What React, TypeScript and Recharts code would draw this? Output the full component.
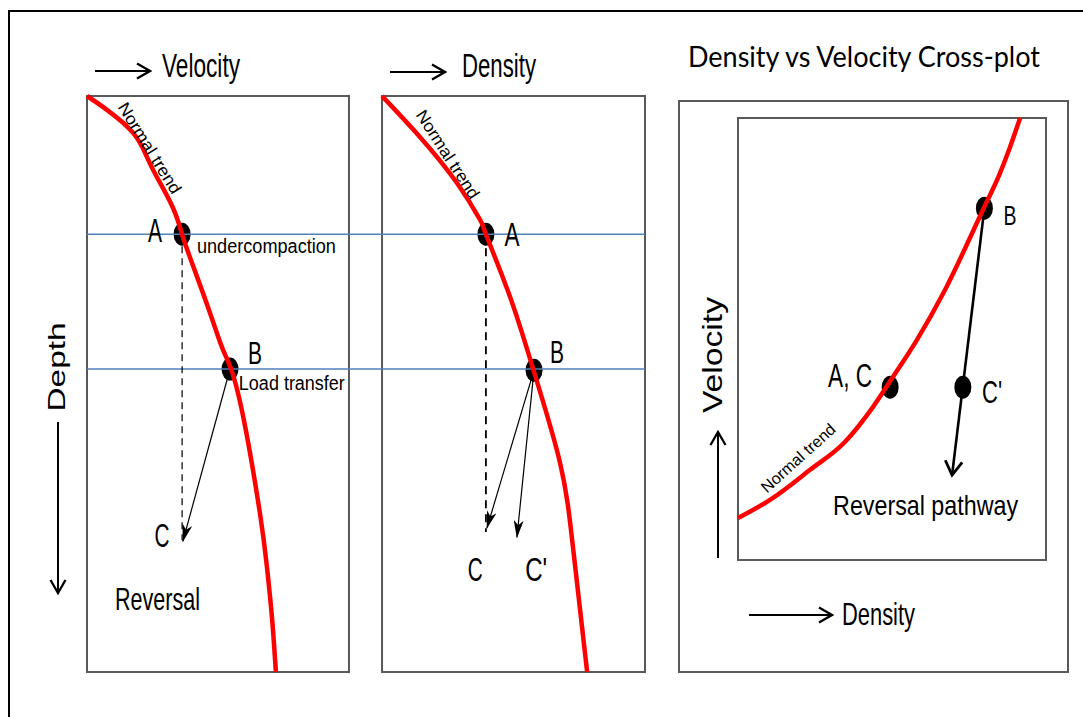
import React from 'react';
import { ComposedChart, Line, Scatter, XAxis, YAxis, ReferenceLine, ReferenceArea } from 'recharts';

// panel 1: velocity (0-100 across its box) against depth (0-100, top to bottom)
const velocityTrend = [
  { x: 0, y: 0 }, { x: 7.6, y: 2.4 }, { x: 17.6, y: 6.4 }, { x: 22.9, y: 10.6 }, { x: 26.7, y: 14.1 },
  { x: 32.8, y: 19.4 }, { x: 36.3, y: 24.0 }, { x: 39.7, y: 28.5 }, { x: 46.6, y: 37.2 }, { x: 51.5, y: 43.6 },
  { x: 55.0, y: 47.4 }, { x: 59.9, y: 56.3 }, { x: 66.0, y: 72.4 }, { x: 68.7, y: 81.8 }, { x: 70.6, y: 90.5 },
  { x: 72.1, y: 100 },
];
const velocityPoints = [{ x: 36.3, y: 24.0 }, { x: 54.6, y: 47.4 }];
const velocityHold = [{ x: 36.3, y: 24.0 }, { x: 36.3, y: 77.1 }];
const velocityToC = [{ x: 54.6, y: 47.4 }, { x: 36.6, y: 77.3 }];
const velocityLabels = [
  { x: 26.0, y: 23.3, text: 'A' },
  { x: 68.5, y: 26.0, text: 'undercompaction' },
  { x: 64.1, y: 44.6, text: 'B' },
  { x: 78.2, y: 49.8, text: 'Load transfer' },
  { x: 28.6, y: 76.2, text: 'C' },
  { x: 26.9, y: 87.2, text: 'Reversal' },
  { x: 24.0, y: 9.0, text: 'Normal trend' },
];

// panel 2: density against the same depth
const densityTrend = [
  { x: 0, y: 0 }, { x: 14.4, y: 7.1 }, { x: 28.5, y: 15.1 }, { x: 37.3, y: 21.5 }, { x: 39.5, y: 24.0 },
  { x: 48.7, y: 34.9 }, { x: 57.8, y: 47.9 }, { x: 67.7, y: 63.7 }, { x: 72.6, y: 78.3 }, { x: 78.0, y: 100 },
];
const densityPoints = [{ x: 39.5, y: 24.0 }, { x: 57.8, y: 47.6 }];
const densityHold = [{ x: 39.5, y: 24.0 }, { x: 39.5, y: 75.7 }];
const densityToC = [{ x: 57.8, y: 47.6 }, { x: 39.9, y: 75.0 }];
const densityToC2 = [{ x: 57.8, y: 47.6 }, { x: 51.3, y: 76.6 }];
const densityLabels = [
  { x: 49.4, y: 23.9, text: 'A' },
  { x: 66.5, y: 44.4, text: 'B' },
  { x: 35.4, y: 82.1, text: 'C' },
  { x: 58.6, y: 82.1, text: "C'" },
  { x: 25.1, y: 10.1, text: 'Normal trend' },
];

// depth of A and B (blue horizons)
const horizons = [24.0, 47.4];

// panel 3: density (x) vs velocity (y) cross-plot
const crossTrend = [
  { x: 0, y: 9.5 }, { x: 10.4, y: 13.6 }, { x: 23.4, y: 20.4 }, { x: 34.7, y: 26.7 }, { x: 43.8, y: 34.6 },
  { x: 50.3, y: 41.4 }, { x: 58.1, y: 49.8 }, { x: 67.2, y: 61.1 }, { x: 79.5, y: 79.2 }, { x: 85.1, y: 87.6 },
  { x: 88.3, y: 93.4 }, { x: 91.6, y: 100 },
];
const crossPoints = [{ x: 80.0, y: 79.6 }, { x: 49.4, y: 39.1 }, { x: 73.0, y: 39.1 }];
const crossReversal = [{ x: 80.0, y: 79.6 }, { x: 69.5, y: 19.2 }];
const crossLabels = [
  { x: 88.3, y: 78.1, text: 'B' },
  { x: 36.4, y: 41.9, text: 'A, C' },
  { x: 82.5, y: 38.1, text: "C'" },
  { x: 60.9, y: 12.4, text: 'Reversal pathway' },
  { x: 19.5, y: 23.1, text: 'Normal trend' },
];

type TagStyle = { size: number; len: number; angle?: number };

const SANS = '"Liberation Sans", Arial, sans-serif';

const velocityTagStyle: Record<string, TagStyle> = {
  A: { size: 33, len: 14 },
  B: { size: 32, len: 14 },
  C: { size: 33, len: 15 },
  undercompaction: { size: 20, len: 139 },
  'Load transfer': { size: 19.5, len: 106 },
  Reversal: { size: 32, len: 85 },
  'Normal trend': { size: 17, len: 104, angle: 58 },
};
const densityTagStyle: Record<string, TagStyle> = {
  A: { size: 33, len: 15 },
  B: { size: 32, len: 14 },
  C: { size: 33, len: 15 },
  "C'": { size: 33, len: 22 },
  'Normal trend': { size: 17, len: 102, angle: 57 },
};
const crossTagStyle: Record<string, TagStyle> = {
  B: { size: 28, len: 13 },
  'A, C': { size: 33, len: 44 },
  "C'": { size: 32, len: 20 },
  'Reversal pathway': { size: 28, len: 185 },
  'Normal trend': { size: 16, len: 94, angle: -42 },
};

const tag = (styles: Record<string, TagStyle>) => (props: any) => {
  const { cx, cy, payload } = props;
  const s = styles[payload.text];
  return (
    <text
      transform={`translate(${cx},${cy}) rotate(${s.angle ?? 0})`}
      textAnchor="middle"
      dy={s.size * 0.36}
      fontSize={s.size}
      fontFamily={SANS}
      textLength={s.len}
      lengthAdjust="spacingAndGlyphs"
      fill="#000"
    >
      {payload.text}
    </text>
  );
};

const blob = (props: any) => <ellipse cx={props.cx} cy={props.cy} rx={8.5} ry={11.5} fill="#000" />;

const Markers = () => (
  <svg width={0} height={0} style={{ position: 'absolute' }}>
    <defs>
      <marker id="stealth" viewBox="0 0 18 10" refX={17} refY={5} markerWidth={18} markerHeight={10}
        markerUnits="userSpaceOnUse" orient="auto">
        <path d="M0,0 L18,5 L0,10 L5,5 Z" fill="#000" />
      </marker>
      <marker id="vhead" viewBox="0 0 18 18" refX={16} refY={9} markerWidth={18} markerHeight={18}
        markerUnits="userSpaceOnUse" orient="auto">
        <path d="M3,1.5 L16,9 L3,16.5" fill="none" stroke="#000" strokeWidth={2.3} />
      </marker>
      <marker id="bighead" viewBox="0 0 20 20" refX={17} refY={10} markerWidth={20} markerHeight={20}
        markerUnits="userSpaceOnUse" orient="auto">
        <path d="M3,1.5 L17,10 L3,18.5" fill="none" stroke="#000" strokeWidth={2.8} />
      </marker>
    </defs>
  </svg>
);

const BOX = '#595959';
const RED = '#ff0000';
const BLUE = '#4f81bd';

// vertical layout so the steep trends are interpolated along depth (depth already runs top-down)
const DepthPanels = () => (
  <ComposedChart layout="vertical" width={1083} height={717} margin={{ top: 96, right: 438, bottom: 45, left: 87 }}>
    <XAxis xAxisId="vel" type="number" dataKey="x" domain={[0, 213]} hide />
    <XAxis xAxisId="den" type="number" dataKey="x" domain={[-112.2, 100]} hide />
    <YAxis yAxisId="depth" type="number" dataKey="y" domain={[0, 100]} hide />

    <ReferenceArea xAxisId="vel" yAxisId="depth" x1={0} x2={100} y1={0} y2={100}
      fill="none" stroke={BOX} strokeWidth={2} />
    <ReferenceArea xAxisId="den" yAxisId="depth" x1={0} x2={100} y1={0} y2={100}
      fill="none" stroke={BOX} strokeWidth={2} />
    {horizons.map((d) => (
      <ReferenceLine key={d} xAxisId="vel" yAxisId="depth" y={d} stroke={BLUE} strokeWidth={1.3} />
    ))}

    <Line xAxisId="vel" yAxisId="depth" data={velocityHold} dataKey="x" stroke="#000" strokeWidth={1.2}
      strokeDasharray="7 5" dot={false} activeDot={false} isAnimationActive={false} />
    <Line xAxisId="vel" yAxisId="depth" data={velocityToC} dataKey="x" stroke="#000" strokeWidth={1.2}
      markerEnd="url(#stealth)" dot={false} activeDot={false} isAnimationActive={false} />
    <Line xAxisId="den" yAxisId="depth" data={densityHold} dataKey="x" stroke="#000" strokeWidth={1.8}
      strokeDasharray="8 6" dot={false} activeDot={false} isAnimationActive={false} />
    <Line xAxisId="den" yAxisId="depth" data={densityToC} dataKey="x" stroke="#000" strokeWidth={1.2}
      markerEnd="url(#stealth)" dot={false} activeDot={false} isAnimationActive={false} />
    <Line xAxisId="den" yAxisId="depth" data={densityToC2} dataKey="x" stroke="#000" strokeWidth={1.2}
      markerEnd="url(#stealth)" dot={false} activeDot={false} isAnimationActive={false} />

    <Scatter xAxisId="vel" yAxisId="depth" data={velocityPoints} shape={blob} zIndex={350} isAnimationActive={false} />
    <Scatter xAxisId="den" yAxisId="depth" data={densityPoints} shape={blob} zIndex={350} isAnimationActive={false} />

    <Line xAxisId="vel" yAxisId="depth" data={velocityTrend} dataKey="x" type="natural" stroke={RED}
      strokeWidth={4.5} dot={false} activeDot={false} isAnimationActive={false} />
    <Line xAxisId="den" yAxisId="depth" data={densityTrend} dataKey="x" type="natural" stroke={RED}
      strokeWidth={4.5} dot={false} activeDot={false} isAnimationActive={false} />

    <Scatter xAxisId="vel" yAxisId="depth" data={velocityLabels} shape={tag(velocityTagStyle)} isAnimationActive={false} />
    <Scatter xAxisId="den" yAxisId="depth" data={densityLabels} shape={tag(densityTagStyle)} isAnimationActive={false} />
  </ComposedChart>
);

const CrossPlot = () => (
  <ComposedChart width={1083} height={717} margin={{ top: 118, right: 37, bottom: 157, left: 738 }}>
    <XAxis type="number" dataKey="x" domain={[0, 100]} hide />
    <YAxis type="number" dataKey="y" domain={[0, 100]} hide />
    <ReferenceArea x1={0} x2={100} y1={0} y2={100} fill="none" stroke={BOX} strokeWidth={2} />
    <Line data={crossReversal} dataKey="y" stroke="#000" strokeWidth={2.6} markerEnd="url(#bighead)"
      dot={false} activeDot={false} isAnimationActive={false} />
    <Scatter data={crossPoints} shape={blob} zIndex={350} isAnimationActive={false} />
    <Line data={crossTrend} dataKey="y" type="monotone" stroke={RED} strokeWidth={4.5}
      dot={false} activeDot={false} isAnimationActive={false} />
    <Scatter data={crossLabels} shape={tag(crossTagStyle)} isAnimationActive={false} />
  </ComposedChart>
);

const Titles = () => (
  <svg width={1083} height={717} style={{ position: 'absolute', left: 0, top: 0 }} fontFamily={SANS}>
    <line x1={95} y1={71} x2={150} y2={71} stroke="#000" strokeWidth={2} markerEnd="url(#vhead)" />
    <text x={162} y={77} fontSize={33} textLength={78} lengthAdjust="spacingAndGlyphs">Velocity</text>
    <line x1={390} y1={72} x2={445} y2={72} stroke="#000" strokeWidth={2} markerEnd="url(#vhead)" />
    <text x={462} y={77} fontSize={33} textLength={74} lengthAdjust="spacingAndGlyphs">Density</text>

    <text transform="translate(65,367) rotate(-90)" textAnchor="middle" fontSize={24} textLength={89}
      lengthAdjust="spacingAndGlyphs">Depth</text>
    <line x1={58} y1={422} x2={58} y2={593} stroke="#000" strokeWidth={2} markerEnd="url(#vhead)" />

    <text x={688} y={67} fontSize={28} fontFamily="Lato, 'Open Sans', sans-serif" textLength={352}
      lengthAdjust="spacingAndGlyphs">Density vs Velocity Cross-plot</text>
    <text transform="translate(722,355) rotate(-90)" textAnchor="middle" fontSize={28} textLength={116}
      lengthAdjust="spacingAndGlyphs">Velocity</text>
    <line x1={718} y1={558} x2={718} y2={432} stroke="#000" strokeWidth={2} markerEnd="url(#vhead)" />
    <line x1={749} y1={615} x2={832} y2={615} stroke="#000" strokeWidth={2} markerEnd="url(#vhead)" />
    <text x={842} y={625} fontSize={32} textLength={73} lengthAdjust="spacingAndGlyphs">Density</text>
  </svg>
);

export default function App() {
  return (
    <div style={{ position: 'absolute', left: 0, top: 0, width: 1083, height: 717, overflow: 'hidden', background: '#fff' }}>
      <Markers />
      <div style={{ position: 'absolute', left: 8, top: 10, width: 1200, height: 800,
        borderLeft: '2px solid #000', borderTop: '2px solid #000' }} />
      <div style={{ position: 'absolute', left: 678, top: 100, width: 391, height: 573,
        border: `2px solid ${BOX}`, boxSizing: 'border-box' }} />
      <div style={{ position: 'absolute', left: 0, top: 0 }}>
        <DepthPanels />
      </div>
      <div style={{ position: 'absolute', left: 0, top: 0 }}>
        <CrossPlot />
      </div>
      <Titles />
    </div>
  );
}
